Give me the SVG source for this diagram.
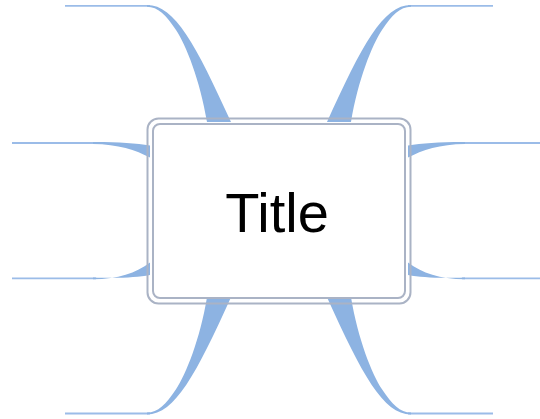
<svg xmlns="http://www.w3.org/2000/svg" width="540" height="419" viewBox="0 0 540 419">
  <style>
    .line { fill: none; stroke: #9bbce8; stroke-width: 1.8; }
    .rib { fill: #8db3e2; stroke: none; }
    .frame { fill: none; stroke: #aab3c5; stroke-width: 2; }
    .title { font-family: "Liberation Sans", Arial, sans-serif; font-size: 56px; fill: #000000; }
  </style>
  <defs>
    <g id="topBranch">
      <line class="line" x1="65" y1="5.8" x2="150" y2="5.8"/>
      <path class="rib" d="M147,4.9 C175,4.9 196,45 231,122 L207,122 C200,80 186,45 176,30 C166,15 158,6.7 147,6.7 Z"/>
    </g>
    <g id="midUpper">
      <line class="line" x1="12" y1="143" x2="96" y2="143"/>
      <path class="rib" d="M93,142.1 C118,142 136,143.5 150,145.5 L150,157.5 C136,150 118,144.2 93,143.9 Z"/>
    </g>
    <g id="midLower">
      <line class="line" x1="12" y1="278.3" x2="96" y2="278.3"/>
      <path class="rib" d="M93,279.2 C118,279.2 136,273 150,262.5 L150,275 C136,277.5 118,278.5 93,277.4 Z"/>
    </g>
  </defs>
  <g id="connectors">
    <use href="#topBranch"/>
    <use href="#topBranch" transform="translate(558,0) scale(-1,1)"/>
    <use href="#topBranch" transform="translate(0,419.3) scale(1,-1)"/>
    <use href="#topBranch" transform="translate(558,419.3) scale(-1,-1)"/>
    <use href="#midUpper"/>
    <use href="#midUpper" transform="translate(558,0) scale(-1,1)"/>
    <use href="#midLower"/>
    <use href="#midLower" transform="translate(558,0) scale(-1,1)"/>
  </g>
  <g id="title-node">
    <rect x="147.5" y="118.5" width="263" height="185" rx="11" ry="11" fill="#ffffff" class="frame"/>
    <rect x="153" y="124" width="252" height="174" rx="7" ry="7" class="frame"/>
    <text class="title" x="277" y="232" text-anchor="middle">Title</text>
  </g>
</svg>
